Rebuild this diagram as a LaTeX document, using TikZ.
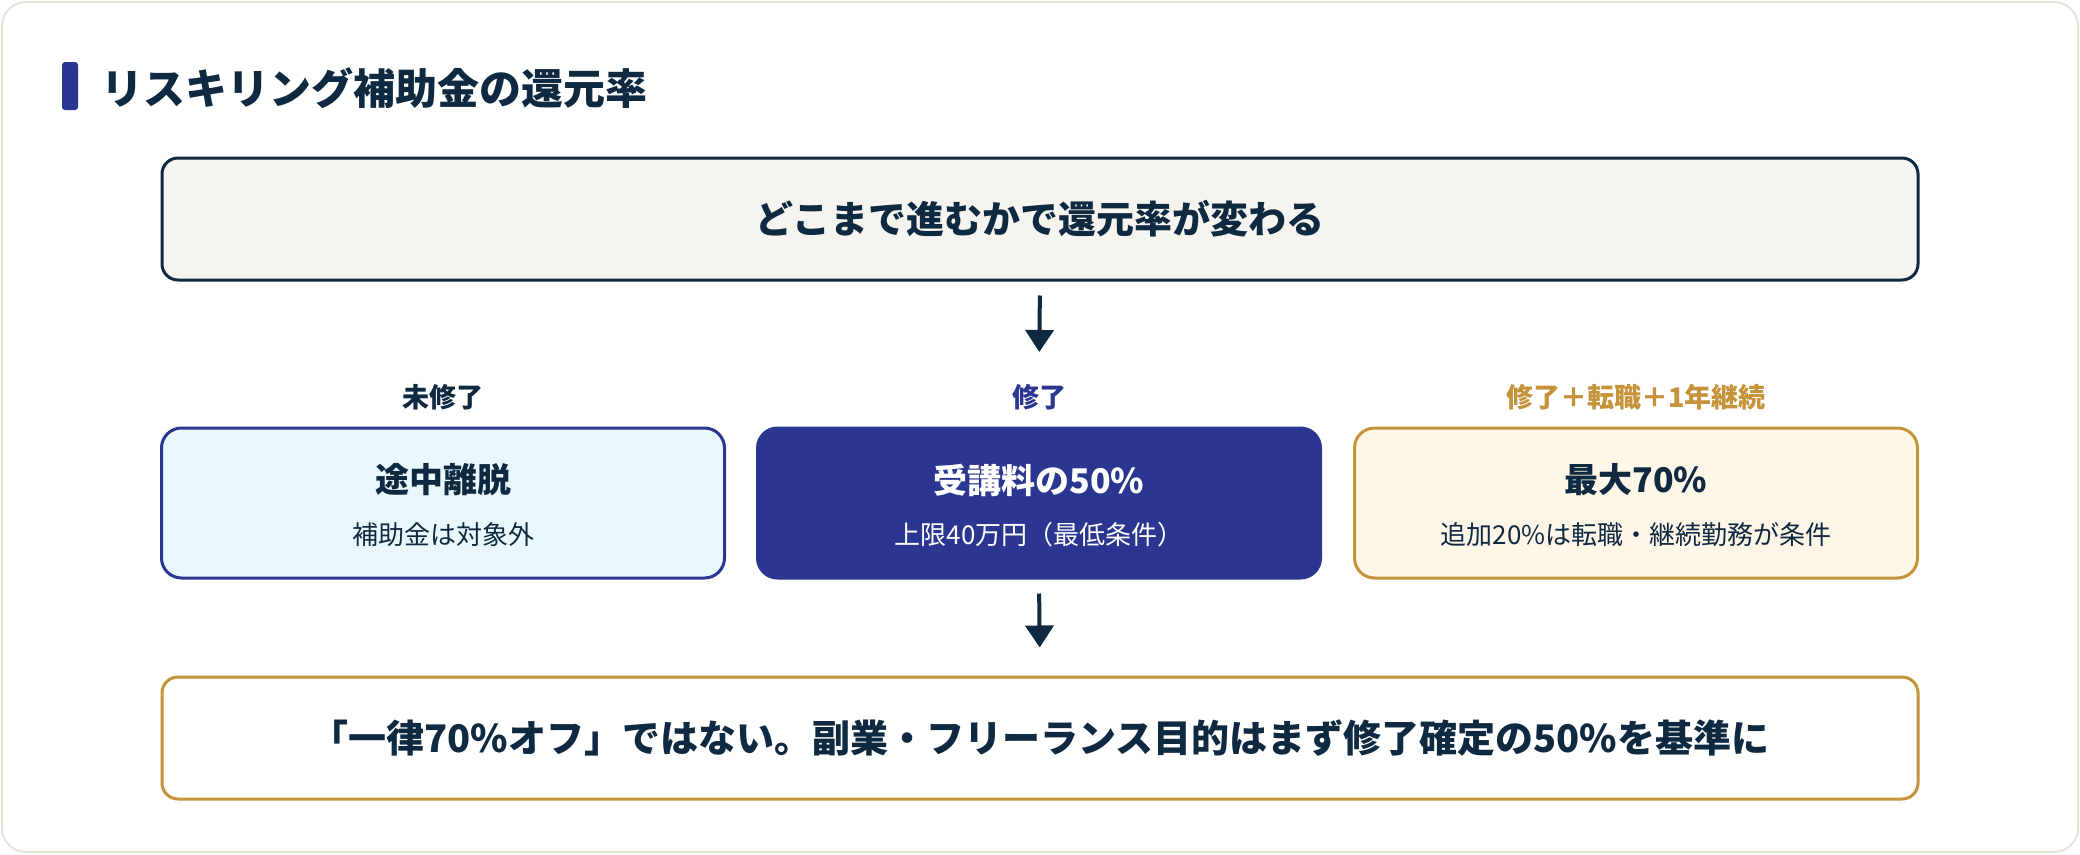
\documentclass[tikz,border=0pt]{standalone}
\usepackage{fontspec}
\setmainfont{Noto Sans CJK JP}
\usetikzlibrary{positioning,arrows.meta}
\definecolor{navy}{HTML}{0F2940}
\definecolor{indigo}{HTML}{2B3691}
\definecolor{gold}{HTML}{C4933A}
\definecolor{cyanbg}{HTML}{EAF8FD}
\definecolor{creambg}{HTML}{FEF6E6}
\definecolor{topbg}{HTML}{F5F4EF}
\definecolor{framecol}{HTML}{E6E3DA}
\newcommand{\fs}[1]{\fontsize{#1}{#1}\selectfont}
\begin{document}
\begin{tikzpicture}[x=1pt,y=-1pt,
    wide/.style={draw, line width=3pt, rounded corners=16pt, minimum width=1756pt, minimum height=122pt, text=navy, font=\fs{38}\bfseries},
    case/.style={draw, line width=3pt, rounded corners=20pt, minimum width=563pt, minimum height=150pt},
    head/.style={inner sep=0pt, font=\fs{27}\bfseries},
    big/.style={inner sep=0pt, font=\fs{34}\bfseries},
    small/.style={inner sep=0pt, font=\fs{26}},
    arr/.style={-{Triangle[width=28pt,length=22pt]}, line width=4pt, navy}]
    \useasboundingbox (0,0) rectangle (2080,854);
    \draw[framecol, line width=2pt, fill=white, rounded corners=24pt] (2,2) rectangle (2078,852);
    \fill[indigo, rounded corners=3pt] (62,62) rectangle (78,110);
    \node[anchor=west, inner sep=0pt, text=navy, font=\fs{42}\bfseries] (title) at (101,88) {リスキリング補助金の還元率};

    \node[wide, draw=navy, fill=topbg] (top) at (1040,219) {どこまで進むかで還元率が変わる};

    \node[case, draw=indigo, fill=cyanbg] (left) at (443,503) {};
    \node[case, draw=indigo, fill=indigo] (mid) at (1039,503) {};
    \node[case, draw=gold, fill=creambg] (right) at (1636,503) {};

    \node[head, text=navy] (lab1) at (443,397) {未修了};
    \node[head, text=indigo] (lab2) at (1039,397) {修了};
    \node[head, text=gold] (lab3) at (1636,397) {修了＋転職＋1年継続};

    \node[big, text=navy] (left1) at (443,480) {途中離脱};
    \node[small, text=navy] (left2) at (443,535) {補助金は対象外};
    \node[big, text=white] (mid1) at (1039,480) {受講料の50\%};
    \node[small, text=white] (mid2) at (1039,535) {上限40万円（最低条件）};
    \node[big, text=navy] (right1) at (1636,480) {最大70\%};
    \node[small, text=navy] (right2) at (1636,535) {追加20\%は転職・継続勤務が条件};

    \node[wide, draw=gold, fill=white] (bottom) at (1040,738) {「一律70\%オフ」ではない。副業・フリーランス目的はまず修了確定の50\%を基準に};

    \draw[arr, shorten <=14pt, shorten >=32pt] (top.south) -- (lab2.north);
    \draw[arr, shorten <=14pt, shorten >=28pt] (mid.south) -- (bottom.north);
\end{tikzpicture}
\end{document}
